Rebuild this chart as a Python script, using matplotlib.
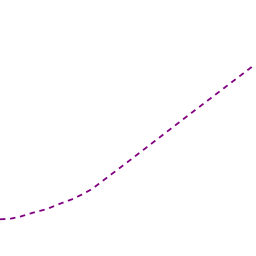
import matplotlib
matplotlib.use("Agg")
import matplotlib.pyplot as plt

x_vals = [0, 10, 20, 33, 47, 60, 72, 83, 92, 128, 190, 253]
y_vals = [36.7, 37.2, 39.3, 43.3, 47.0, 52.3, 56.7, 62.0, 67.0, 94.3, 142.0, 190.0]

fig = plt.figure(figsize=(2.56, 2.56), dpi=100)
ax = fig.add_axes([0, 0, 1, 1])
ax.plot(x_vals, y_vals, color="#800080", lw=1.3, linestyle=(0, (3, 2.6)))
ax.set_xlim(0, 256)
ax.set_ylim(0, 256)
ax.axis("off")

fig.savefig("out.png", dpi=100)
